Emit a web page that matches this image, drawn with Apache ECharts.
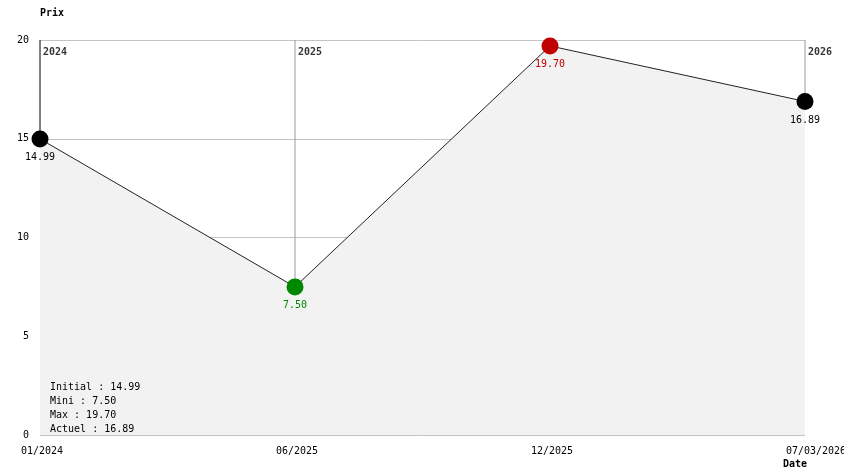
<!DOCTYPE html>
<html>
<head>
<meta charset="utf-8">
<script src="https://cdn.jsdelivr.net/npm/echarts@6/dist/echarts.min.js"></script>
<style>html,body{margin:0;padding:0;background:#fff;overflow:hidden}#c{width:844px;height:474px}</style>
</head>
<body>
<div id="c"></div>
<script>
const dates = ['01/2024', '06/2025', '12/2025', '07/03/2026'];
const prices = [14.99, 7.50, 19.70, 16.89];
const pointColors = ['#000000', '#008800', '#c00000', '#000000'];
const yearLabels = ['2024', '2025', '2026'];
const yearIdx = [0, 1, 3];
const yearLineColors = ['#000000', '#999999', '#999999'];
const yMin = 0, yMax = 20, yStep = 5;
const summaryLabels = ['Initial', 'Mini', 'Max', 'Actuel'];
const summaryValues = [14.99, 7.50, 19.70, 16.89];
const summaryColors = ['#000000', '#008800', '#c00000', '#000000'];

const FONT = '"DejaVu Sans Mono", "Liberation Mono", monospace';
const chart = echarts.init(document.getElementById('c'), null, {renderer: 'canvas', width: 844, height: 474});

const rich = {};
dates.forEach(d => { rich['l' + d.length] = {fontFamily: FONT, fontSize: 10, color: '#000', padding: [0, 0, 0, 6 * d.length - 38]}; });

const summaryRich = {};
summaryColors.forEach((c, i) => { summaryRich['s' + i] = {fontFamily: FONT, fontSize: 10, color: c, lineHeight: 14}; });
const summaryText = summaryLabels.map((l, i) => '{s' + i + '|' + l + ' : ' + summaryValues[i].toFixed(2) + '}').join('\n');

const yearLineSeries = yearIdx.map((xi, i) => ({
  type: 'line', z: 1, silent: true, symbol: 'none',
  data: [[xi, prices[xi]], [xi, yMax]],
  lineStyle: {color: yearLineColors[i], width: 1}
}));

chart.setOption({
  animation: false,
  backgroundColor: '#ffffff',
  grid: {left: 40, right: 39, top: 40, bottom: 39, containLabel: false, outerBoundsMode: 'none'},
  xAxis: {
    type: 'category', data: dates, boundaryGap: false,
    axisLine: {show: false}, axisTick: {show: false}, splitLine: {show: false},
    axisLabel: {
      margin: 11, interval: 0, align: 'center', showMinLabel: true, showMaxLabel: true,
      hideOverlap: false,
      formatter: v => '{l' + v.length + '|' + v + '}', rich: rich
    }
  },
  yAxis: {
    type: 'value', min: yMin, max: yMax, interval: yStep,
    axisLine: {show: false},
    axisTick: {show: false},
    axisLabel: {margin: 11, fontFamily: FONT, fontSize: 10, color: '#000'},
    splitLine: {show: true, lineStyle: {color: '#c4c4c4', width: 1}}
  },
  graphic: [
    {type: 'text', left: 40, top: 8, style: {text: 'Prix', font: 'bold 10px ' + FONT, fill: '#000'}},
    {type: 'text', left: 783, top: 459, style: {text: 'Date', font: 'bold 10px ' + FONT, fill: '#000'}},
    {type: 'text', left: 50, top: 382, z: 10, style: {text: summaryText, rich: summaryRich, font: '10px ' + FONT}}
  ],
  series: yearLineSeries.concat([
    {
      type: 'scatter', z: 1, silent: true,
      data: yearIdx.map((xi, i) => ({value: [xi, yMax], label: {formatter: yearLabels[i]}})),
      symbolSize: 0,
      label: {show: true, position: [3, 7], align: 'left', verticalAlign: 'top',
        fontFamily: FONT, fontSize: 10, fontWeight: 'bold', color: '#000'}
    },
    {
      type: 'line', z: 3,
      data: prices.map((p, i) => ({value: p, itemStyle: {color: pointColors[i]}, label: {color: pointColors[i]}})),
      symbol: 'circle', symbolSize: 17, showAllSymbol: true,
      lineStyle: {color: '#222', width: 1},
      areaStyle: {color: '#f2f2f2', opacity: 1},
      label: {show: true, position: 'bottom', distance: 5, fontFamily: FONT, fontSize: 10,
        formatter: p => p.value.toFixed(2)}
    }
  ])
});
</script>
</body>
</html>
